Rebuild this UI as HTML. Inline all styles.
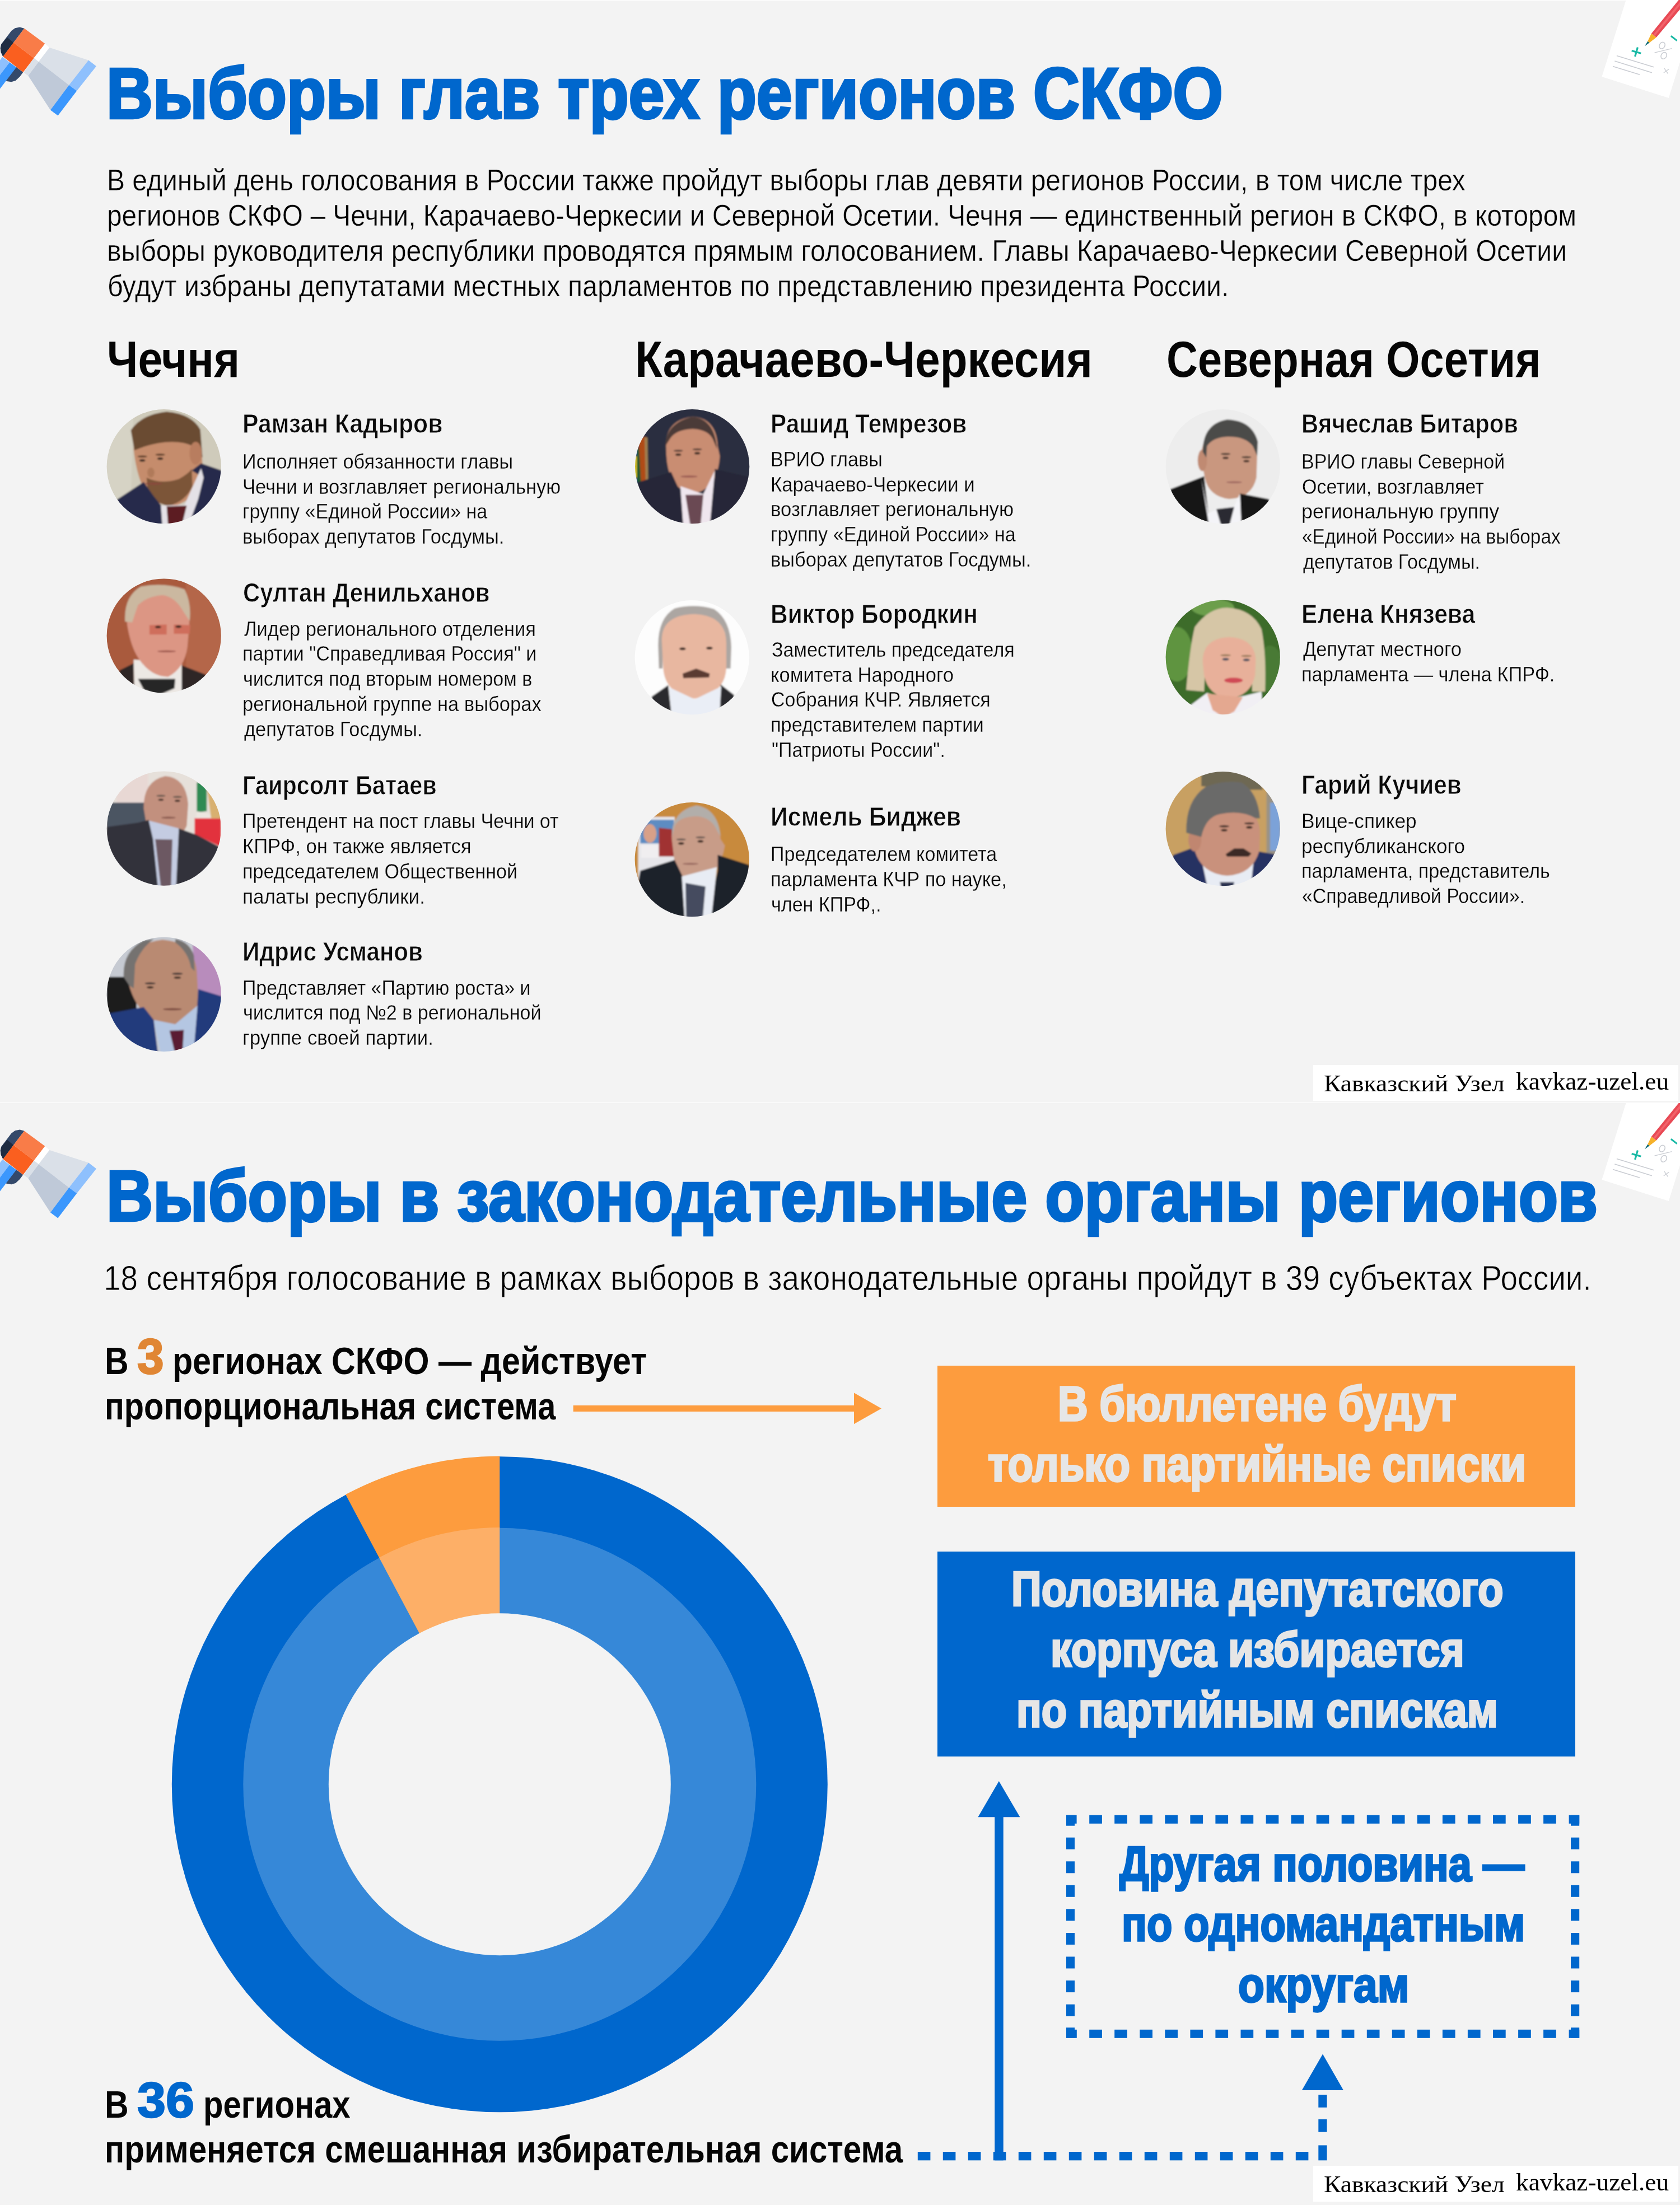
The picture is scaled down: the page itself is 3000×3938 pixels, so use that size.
<!DOCTYPE html>
<html><head><meta charset="utf-8"><style>
html,body{margin:0;padding:0;}
body{width:3000px;height:3938px;position:relative;overflow:hidden;background:#f3f3f3;font-family:'Liberation Sans',sans-serif;}
.t{position:absolute;white-space:nowrap;line-height:1;transform-origin:0 0;}
.a{position:absolute;}
</style></head><body>
<div class="a" style="left:0.00px;top:0.00px;width:3000.00px;height:1.00px;background:#ffffff"></div>
<div class="a" style="left:0.00px;top:1969.00px;width:3000.00px;height:1.00px;background:#ffffff"></div>
<svg class="a" style="left:0;top:40px" width="180" height="180" viewBox="0 0 1680 1680"><polygon points="405.0,100.0 330.0,80.0 250.0,95.0 190.0,140.0 20.0,365.0 5.0,430.0 20.0,500.0 50.0,570.0" fill="#34496a"/><polygon points="120.0,250.0 225.0,335.0 50.0,570.0 15.0,500.0 8.0,430.0 25.0,365.0" fill="#1f2c42"/><polygon points="270.0,745.0 385.0,830.0 330.0,905.0 260.0,970.0 190.0,992.0 110.0,980.0 95.0,965.0" fill="#34496a"/><polygon points="40.0,575.0 160.0,665.0 0.0,875.0 0.0,630.0" fill="#8ec0fd"/><polygon points="160.0,665.0 272.0,750.0 0.0,1105.0 0.0,875.0" fill="#3b97fd"/><polygon points="405.0,100.0 750.0,355.0 565.0,595.0 225.0,335.0" fill="#f97c48"/><polygon points="225.0,335.0 565.0,595.0 385.0,830.0 50.0,570.0" fill="#fa5f1f"/><polygon points="750.0,355.0 825.0,420.0 645.0,655.0 565.0,595.0" fill="#ffffff"/><polygon points="565.0,595.0 645.0,655.0 470.0,890.0 395.0,835.0" fill="#dae0e8"/><polygon points="825.0,420.0 1475.0,630.0 1150.0,1045.0 645.0,655.0" fill="#dae0e8"/><polygon points="645.0,655.0 1150.0,1045.0 840.0,1460.0 470.0,890.0" fill="#bfc9d8"/><polygon points="1475.0,630.0 1605.0,730.0 1280.0,1140.0 1150.0,1045.0" fill="#8ec0fd"/><polygon points="1150.0,1045.0 1280.0,1140.0 965.0,1555.0 840.0,1460.0" fill="#3b97fd"/></svg>
<svg class="a" style="left:0;top:2009px" width="180" height="180" viewBox="0 0 1680 1680"><polygon points="405.0,100.0 330.0,80.0 250.0,95.0 190.0,140.0 20.0,365.0 5.0,430.0 20.0,500.0 50.0,570.0" fill="#34496a"/><polygon points="120.0,250.0 225.0,335.0 50.0,570.0 15.0,500.0 8.0,430.0 25.0,365.0" fill="#1f2c42"/><polygon points="270.0,745.0 385.0,830.0 330.0,905.0 260.0,970.0 190.0,992.0 110.0,980.0 95.0,965.0" fill="#34496a"/><polygon points="40.0,575.0 160.0,665.0 0.0,875.0 0.0,630.0" fill="#8ec0fd"/><polygon points="160.0,665.0 272.0,750.0 0.0,1105.0 0.0,875.0" fill="#3b97fd"/><polygon points="405.0,100.0 750.0,355.0 565.0,595.0 225.0,335.0" fill="#f97c48"/><polygon points="225.0,335.0 565.0,595.0 385.0,830.0 50.0,570.0" fill="#fa5f1f"/><polygon points="750.0,355.0 825.0,420.0 645.0,655.0 565.0,595.0" fill="#ffffff"/><polygon points="565.0,595.0 645.0,655.0 470.0,890.0 395.0,835.0" fill="#dae0e8"/><polygon points="825.0,420.0 1475.0,630.0 1150.0,1045.0 645.0,655.0" fill="#dae0e8"/><polygon points="645.0,655.0 1150.0,1045.0 840.0,1460.0 470.0,890.0" fill="#bfc9d8"/><polygon points="1475.0,630.0 1605.0,730.0 1280.0,1140.0 1150.0,1045.0" fill="#8ec0fd"/><polygon points="1150.0,1045.0 1280.0,1140.0 965.0,1555.0 840.0,1460.0" fill="#3b97fd"/></svg>
<svg class="a" style="left:2800px;top:0px" width="200" height="200" viewBox="0 0 1680 1680"><polygon points="870.0,0.0 1680.0,0.0 1680.0,930.0 1510.0,1470.0 508.0,1150.0" fill="#ffffff"/><line x1="730" y1="835" x2="1285" y2="1005" stroke="#c9ccd2" stroke-width="13"/><line x1="700" y1="915" x2="1258" y2="1090" stroke="#c9ccd2" stroke-width="13"/><line x1="672" y1="995" x2="1075" y2="1120" stroke="#c9ccd2" stroke-width="13"/><line x1="1045" y1="710" x2="1005" y2="848" stroke="#19b9a5" stroke-width="27"/><line x1="955" y1="760" x2="1095" y2="800" stroke="#19b9a5" stroke-width="27"/><line x1="1545" y1="540" x2="1635" y2="610" stroke="#19b9a5" stroke-width="25"/><line x1="1298" y1="790" x2="1558" y2="728" stroke="#c9ccd2" stroke-width="11"/><ellipse cx="1412" cy="682" rx="40" ry="52" transform="rotate(30 1412 682)" fill="none" stroke="#c9ccd2" stroke-width="13"/><ellipse cx="1437" cy="835" rx="40" ry="52" transform="rotate(30 1437 835)" fill="none" stroke="#c9ccd2" stroke-width="13"/><line x1="1435" y1="1092" x2="1515" y2="1035" stroke="#c9ccd2" stroke-width="11"/><line x1="1445" y1="1025" x2="1500" y2="1105" stroke="#c9ccd2" stroke-width="11"/><polygon points="1250.0,505.0 1660.0,0.0 1680.0,0.0 1680.0,140.0 1325.0,560.0" fill="#e84a55"/><polygon points="1276.0,524.0 1680.0,30.0 1680.0,80.0 1300.0,542.0" fill="#f2636b"/><polygon points="1250.0,505.0 1325.0,560.0 1222.0,640.0 1195.0,620.0" fill="#f6b12b"/><polygon points="1195.0,620.0 1222.0,640.0 1150.0,692.0" fill="#0f6b78"/></svg>
<svg class="a" style="left:2800px;top:1970px" width="200" height="200" viewBox="0 0 1680 1680"><polygon points="870.0,0.0 1680.0,0.0 1680.0,930.0 1510.0,1470.0 508.0,1150.0" fill="#ffffff"/><line x1="730" y1="835" x2="1285" y2="1005" stroke="#c9ccd2" stroke-width="13"/><line x1="700" y1="915" x2="1258" y2="1090" stroke="#c9ccd2" stroke-width="13"/><line x1="672" y1="995" x2="1075" y2="1120" stroke="#c9ccd2" stroke-width="13"/><line x1="1045" y1="710" x2="1005" y2="848" stroke="#19b9a5" stroke-width="27"/><line x1="955" y1="760" x2="1095" y2="800" stroke="#19b9a5" stroke-width="27"/><line x1="1545" y1="540" x2="1635" y2="610" stroke="#19b9a5" stroke-width="25"/><line x1="1298" y1="790" x2="1558" y2="728" stroke="#c9ccd2" stroke-width="11"/><ellipse cx="1412" cy="682" rx="40" ry="52" transform="rotate(30 1412 682)" fill="none" stroke="#c9ccd2" stroke-width="13"/><ellipse cx="1437" cy="835" rx="40" ry="52" transform="rotate(30 1437 835)" fill="none" stroke="#c9ccd2" stroke-width="13"/><line x1="1435" y1="1092" x2="1515" y2="1035" stroke="#c9ccd2" stroke-width="11"/><line x1="1445" y1="1025" x2="1500" y2="1105" stroke="#c9ccd2" stroke-width="11"/><polygon points="1250.0,505.0 1660.0,0.0 1680.0,0.0 1680.0,140.0 1325.0,560.0" fill="#e84a55"/><polygon points="1276.0,524.0 1680.0,30.0 1680.0,80.0 1300.0,542.0" fill="#f2636b"/><polygon points="1250.0,505.0 1325.0,560.0 1222.0,640.0 1195.0,620.0" fill="#f6b12b"/><polygon points="1195.0,620.0 1222.0,640.0 1150.0,692.0" fill="#0f6b78"/></svg>
<div class="a" style="left:2345.00px;top:1902.00px;width:652.00px;height:64.00px;background:#ffffff"></div>
<div class="a" style="left:2345.00px;top:3868.20px;width:652.00px;height:63.60px;background:#ffffff"></div>
<div class="a" style="left:1674.00px;top:2439.20px;width:1139.00px;height:251.70px;background:#fd9c3e"></div>
<div class="a" style="left:1673.75px;top:2771.00px;width:1139.25px;height:366.10px;background:#0067cd"></div>
<svg class="a" style="left:0;top:0" width="3000" height="3938" viewBox="0 0 3000 3938"><circle cx="892.3" cy="3186.7" r="585.5" fill="#0067cd"/><path d="M892.3,3186.7 L892.3,2600.5 A586.2,586.2 0 0 0 617.10,2669.12 Z" fill="#fd9c3e"/><circle cx="892.3" cy="3186.7" r="458" fill="#3688d8"/><path d="M892.3,3186.7 L892.3,2728.0 A458.7,458.7 0 0 0 676.95,2781.69 Z" fill="#fdaf67"/><circle cx="892.3" cy="3186.7" r="305.5" fill="#f3f3f3"/><rect x="1023.7" y="2510" width="502.29999999999995" height="11" fill="#fd9c3e"/><polygon points="1525,2487.4 1574,2515.5 1525,2543.2" fill="#fd9c3e"/><polygon points="1783.8,3181 1821.4,3245.2 1746.4,3245.2" fill="#0067cd"/><rect x="1776.2" y="3244" width="15.5" height="614.3000000000002" fill="#0067cd"/><polygon points="2362,3668.5 2399,3732.9 2324.8,3732.9" fill="#0067cd"/><rect x="2354.3" y="3741" width="15.2" height="22.8" fill="#0067cd"/><rect x="2354.3" y="3785" width="15.2" height="22.6" fill="#0067cd"/><rect x="2354.3" y="3831.4" width="15.2" height="26.9" fill="#0067cd"/><rect x="1638.8" y="3843" width="22.6" height="15.3" fill="#0067cd"/><rect x="1683.8" y="3843" width="22.6" height="15.3" fill="#0067cd"/><rect x="1728.8" y="3843" width="22.6" height="15.3" fill="#0067cd"/><rect x="1773.8" y="3843" width="22.6" height="15.3" fill="#0067cd"/><rect x="1818.8" y="3843" width="22.6" height="15.3" fill="#0067cd"/><rect x="1863.8" y="3843" width="22.6" height="15.3" fill="#0067cd"/><rect x="1908.8" y="3843" width="22.6" height="15.3" fill="#0067cd"/><rect x="1953.8" y="3843" width="22.6" height="15.3" fill="#0067cd"/><rect x="1998.8" y="3843" width="22.6" height="15.3" fill="#0067cd"/><rect x="2043.8" y="3843" width="22.6" height="15.3" fill="#0067cd"/><rect x="2088.8" y="3843" width="22.6" height="15.3" fill="#0067cd"/><rect x="2133.8" y="3843" width="22.6" height="15.3" fill="#0067cd"/><rect x="2178.8" y="3843" width="22.6" height="15.3" fill="#0067cd"/><rect x="2223.8" y="3843" width="22.6" height="15.3" fill="#0067cd"/><rect x="2268.8" y="3843" width="22.6" height="15.3" fill="#0067cd"/><rect x="2313.8" y="3843" width="22.6" height="15.3" fill="#0067cd"/><rect x="1945.2" y="3241.7" width="22.7" height="15.1" fill="#0067cd"/><rect x="1945.2" y="3624.8" width="22.7" height="15.0" fill="#0067cd"/><rect x="1990.2" y="3241.7" width="22.7" height="15.1" fill="#0067cd"/><rect x="1990.2" y="3624.8" width="22.7" height="15.0" fill="#0067cd"/><rect x="2035.3" y="3241.7" width="22.7" height="15.1" fill="#0067cd"/><rect x="2035.3" y="3624.8" width="22.7" height="15.0" fill="#0067cd"/><rect x="2080.3" y="3241.7" width="22.7" height="15.1" fill="#0067cd"/><rect x="2080.3" y="3624.8" width="22.7" height="15.0" fill="#0067cd"/><rect x="2125.4" y="3241.7" width="22.7" height="15.1" fill="#0067cd"/><rect x="2125.4" y="3624.8" width="22.7" height="15.0" fill="#0067cd"/><rect x="2170.4" y="3241.7" width="22.7" height="15.1" fill="#0067cd"/><rect x="2170.4" y="3624.8" width="22.7" height="15.0" fill="#0067cd"/><rect x="2215.5" y="3241.7" width="22.7" height="15.1" fill="#0067cd"/><rect x="2215.5" y="3624.8" width="22.7" height="15.0" fill="#0067cd"/><rect x="2260.6" y="3241.7" width="22.7" height="15.1" fill="#0067cd"/><rect x="2260.6" y="3624.8" width="22.7" height="15.0" fill="#0067cd"/><rect x="2305.6" y="3241.7" width="22.7" height="15.1" fill="#0067cd"/><rect x="2305.6" y="3624.8" width="22.7" height="15.0" fill="#0067cd"/><rect x="2350.7" y="3241.7" width="22.7" height="15.1" fill="#0067cd"/><rect x="2350.7" y="3624.8" width="22.7" height="15.0" fill="#0067cd"/><rect x="2395.7" y="3241.7" width="22.7" height="15.1" fill="#0067cd"/><rect x="2395.7" y="3624.8" width="22.7" height="15.0" fill="#0067cd"/><rect x="2440.8" y="3241.7" width="22.7" height="15.1" fill="#0067cd"/><rect x="2440.8" y="3624.8" width="22.7" height="15.0" fill="#0067cd"/><rect x="2485.8" y="3241.7" width="22.7" height="15.1" fill="#0067cd"/><rect x="2485.8" y="3624.8" width="22.7" height="15.0" fill="#0067cd"/><rect x="2530.8" y="3241.7" width="22.7" height="15.1" fill="#0067cd"/><rect x="2530.8" y="3624.8" width="22.7" height="15.0" fill="#0067cd"/><rect x="2575.9" y="3241.7" width="22.7" height="15.1" fill="#0067cd"/><rect x="2575.9" y="3624.8" width="22.7" height="15.0" fill="#0067cd"/><rect x="2620.9" y="3241.7" width="22.7" height="15.1" fill="#0067cd"/><rect x="2620.9" y="3624.8" width="22.7" height="15.0" fill="#0067cd"/><rect x="2666.0" y="3241.7" width="22.7" height="15.1" fill="#0067cd"/><rect x="2666.0" y="3624.8" width="22.7" height="15.0" fill="#0067cd"/><rect x="2711.1" y="3241.7" width="22.7" height="15.1" fill="#0067cd"/><rect x="2711.1" y="3624.8" width="22.7" height="15.0" fill="#0067cd"/><rect x="2756.1" y="3241.7" width="22.7" height="15.1" fill="#0067cd"/><rect x="2756.1" y="3624.8" width="22.7" height="15.0" fill="#0067cd"/><rect x="1904" y="3281.7" width="15" height="21" fill="#0067cd"/><rect x="2805" y="3281.7" width="15.2" height="21" fill="#0067cd"/><rect x="1904" y="3324.3" width="15" height="21" fill="#0067cd"/><rect x="2805" y="3324.3" width="15.2" height="21" fill="#0067cd"/><rect x="1904" y="3366.8" width="15" height="21" fill="#0067cd"/><rect x="2805" y="3366.8" width="15.2" height="21" fill="#0067cd"/><rect x="1904" y="3409.4" width="15" height="21" fill="#0067cd"/><rect x="2805" y="3409.4" width="15.2" height="21" fill="#0067cd"/><rect x="1904" y="3452.0" width="15" height="21" fill="#0067cd"/><rect x="2805" y="3452.0" width="15.2" height="21" fill="#0067cd"/><rect x="1904" y="3494.5" width="15" height="21" fill="#0067cd"/><rect x="2805" y="3494.5" width="15.2" height="21" fill="#0067cd"/><rect x="1904" y="3537.1" width="15" height="21" fill="#0067cd"/><rect x="2805" y="3537.1" width="15.2" height="21" fill="#0067cd"/><rect x="1904" y="3579.7" width="15" height="21" fill="#0067cd"/><rect x="2805" y="3579.7" width="15.2" height="21" fill="#0067cd"/><rect x="1904" y="3241.7" width="18.6" height="15.1" fill="#0067cd"/><rect x="1904" y="3241.7" width="15" height="19" fill="#0067cd"/><rect x="2801.6" y="3241.7" width="18.6" height="15.1" fill="#0067cd"/><rect x="2805" y="3241.7" width="15.2" height="19" fill="#0067cd"/><rect x="1904" y="3624.8" width="18.8" height="15.0" fill="#0067cd"/><rect x="1904" y="3621.1" width="15" height="18.7" fill="#0067cd"/><rect x="2801.6" y="3624.8" width="18.6" height="15.0" fill="#0067cd"/><rect x="2805" y="3621.1" width="15.2" height="18.7" fill="#0067cd"/></svg>
<svg class="a" style="left:185px;top:725px" width="215" height="215" viewBox="0 0 1680 1680"><defs><clipPath id="c185_725"><circle cx="842" cy="845" r="798"/></clipPath><filter id="fc185_725" x="-5%" y="-5%" width="110%" height="110%"><feGaussianBlur stdDeviation="14"/></filter></defs><g clip-path="url(#c185_725)"><g filter="url(#fc185_725)"><rect width="1680" height="1680" fill="#cfcbbb"/><polygon points="0,0 420,0 380,1300 0,1400" fill="#d6d3c5"/><path d="M420,620 Q400,220 860,150 Q1330,200 1370,640 L1390,980 Q1300,1300 1000,1390 Q760,1400 620,1250 Q470,1050 420,620Z" fill="#c58c6c"/><path d="M380,340 Q520,120 880,80 Q1230,110 1350,330 L1380,720 L1250,560 Q1050,470 760,520 Q560,560 430,620Z" fill="#6b4b33"/><ellipse cx="1285" cy="660" rx="85" ry="160" fill="#b87d5f"/><path d="M600,1000 Q800,1100 1050,1020 Q1180,950 1230,880 L1240,1120 Q1150,1330 900,1400 Q700,1330 620,1230Z" fill="#7c5439"/><polygon points="150,1330 560,1060 700,1260 830,1420 850,1680 150,1680" fill="#272c4b"/><polygon points="1230,900 1360,800 1650,900 1680,1680 1180,1680 1300,1300 1390,1000" fill="#272c4b"/><polygon points="800,1390 1130,1380 1360,870 1395,1000 1320,1300 1180,1680 820,1680" fill="#e4e1e6"/><polygon points="880,1400 1160,1390 1090,1680 900,1680" fill="#5c1d22"/><ellipse cx="540" cy="760" rx="42" ry="18" fill="#3b2a24"/><ellipse cx="790" cy="735" rx="42" ry="18" fill="#3b2a24"/><ellipse cx="540" cy="705" rx="67" ry="14" fill="#5a3a28"/><ellipse cx="790" cy="680" rx="67" ry="14" fill="#5a3a28"/><ellipse cx="700" cy="1085" rx="120" ry="14" fill="#8a4a3c"/><ellipse cx="660" cy="930" rx="50" ry="70" fill="#b07a5a"/></g></g></svg>
<svg class="a" style="left:185px;top:1027px" width="215" height="215" viewBox="0 0 1680 1680"><defs><clipPath id="c185_1027"><circle cx="842" cy="848" r="798"/></clipPath><filter id="fc185_1027" x="-5%" y="-5%" width="110%" height="110%"><feGaussianBlur stdDeviation="14"/></filter></defs><g clip-path="url(#c185_1027)"><g filter="url(#fc185_1027)"><rect width="1680" height="1680" fill="#a95a3c"/><polygon points="1150,0 1680,0 1680,1680 1150,1680" fill="#b4664a"/><polygon points="220,1330 420,1230 430,1680 220,1680" fill="#2f2828"/><polygon points="1090,1260 1430,1390 1430,1680 1080,1680" fill="#2f2828"/><polygon points="420,1180 1090,1220 1090,1680 430,1680" fill="#ece8e4"/><path d="M330,700 Q300,300 560,170 Q850,110 1120,220 Q1220,400 1190,750 L1170,1000 Q1130,1300 900,1420 Q650,1420 480,1150 Q380,1000 330,700Z" fill="#dc9684"/><path d="M300,650 Q280,300 520,160 Q850,100 1130,200 Q1230,400 1200,640 L1120,520 Q1000,300 820,280 Q600,300 480,420 Q430,560 400,660Z" fill="#cbb8a0"/><polygon points="640,700 880,690 880,830 640,830" fill="#cf6e5c"/><polygon points="980,690 1210,700 1200,820 980,820" fill="#cf6e5c"/><polygon points="480,1450 1000,1450 990,1580 760,1680 560,1600" fill="#262626"/><ellipse cx="760" cy="725" rx="42" ry="18" fill="#3b2a24"/><ellipse cx="1045" cy="720" rx="42" ry="18" fill="#3b2a24"/><ellipse cx="880" cy="1065" rx="130" ry="14" fill="#a05a50"/></g></g></svg>
<svg class="a" style="left:185px;top:1372px" width="215" height="215" viewBox="0 0 1680 1680"><defs><clipPath id="c185_1372"><circle cx="842" cy="840" r="798"/></clipPath><filter id="fc185_1372" x="-5%" y="-5%" width="110%" height="110%"><feGaussianBlur stdDeviation="14"/></filter></defs><g clip-path="url(#c185_1372)"><g filter="url(#fc185_1372)"><rect width="1680" height="1680" fill="#e6e0da"/><polygon points="180,0 620,0 620,500 180,500" fill="#e8d8d4"/><polygon points="40,480 620,480 620,820 40,820" fill="#4c5462"/><polygon points="1300,200 1440,200 1440,600 1300,620" fill="#2e8a52"/><polygon points="1300,600 1560,660 1560,720 1290,700" fill="#ece6e0"/><polygon points="1270,700 1640,700 1640,1100 1270,920" fill="#e2323e"/><polygon points="1440,250 1640,450 1640,700 1500,700" fill="#d8b070"/><path d="M560,560 Q550,180 860,110 Q1150,130 1180,500 L1160,800 Q1100,960 880,980 Q650,960 600,800Z" fill="#c2907e"/><polygon points="40,820 480,760 630,720 720,990 1000,990 1050,840 1300,930 1620,1100 1680,1680 0,1680" fill="#30323a"/><polygon points="630,730 1050,840 1010,1680 760,1680 690,990" fill="#c4cce2"/><polygon points="720,990 960,995 940,1680 800,1680" fill="#6c5862"/><ellipse cx="800" cy="440" rx="38" ry="15" fill="#3b2a24"/><ellipse cx="1030" cy="455" rx="38" ry="15" fill="#3b2a24"/><ellipse cx="800" cy="385" rx="63" ry="14" fill="#6a5a50"/><ellipse cx="1030" cy="400" rx="63" ry="14" fill="#6a5a50"/><ellipse cx="905" cy="690" rx="100" ry="14" fill="#8a5a50"/></g></g></svg>
<svg class="a" style="left:185px;top:1668px" width="215" height="215" viewBox="0 0 1680 1680"><defs><clipPath id="c185_1668"><circle cx="842" cy="842" r="798"/></clipPath><filter id="fc185_1668" x="-5%" y="-5%" width="110%" height="110%"><feGaussianBlur stdDeviation="14"/></filter></defs><g clip-path="url(#c185_1668)"><g filter="url(#fc185_1668)"><rect width="1680" height="1680" fill="#c6cad2"/><polygon points="40,600 460,600 460,1120 40,1120" fill="#1a1a1e"/><polygon points="1240,150 1680,300 1680,880 1300,860" fill="#b88cbc"/><path d="M330,600 Q300,140 820,80 Q1250,110 1300,500 L1320,880 Q1310,1250 1050,1320 Q750,1330 560,1100 Q380,900 330,600Z" fill="#b98a72"/><path d="M280,600 Q260,250 560,90 L700,70 Q520,200 440,420 L420,760 L360,720Z" fill="#757270"/><path d="M1000,70 Q1200,110 1260,300 L1270,520 L1220,470 Q1180,250 1000,120Z" fill="#757270"/><polygon points="80,1110 560,1020 700,1200 760,1680 0,1680" fill="#243a7c"/><polygon points="1320,770 1680,880 1680,1680 1250,1680 1300,1100" fill="#243a7c"/><polygon points="700,1200 1000,1260 1310,1000 1260,1600 800,1680" fill="#b4c6e2"/><polygon points="920,1350 1120,1340 1100,1680 1000,1680" fill="#5a1a32"/><ellipse cx="650" cy="745" rx="50" ry="16" fill="#3b2a24"/><ellipse cx="1030" cy="610" rx="50" ry="16" fill="#3b2a24"/><ellipse cx="650" cy="690" rx="75" ry="14" fill="#3a3030"/><ellipse cx="1030" cy="555" rx="75" ry="14" fill="#3a3030"/><ellipse cx="960" cy="1050" rx="130" ry="14" fill="#7a4a40"/></g></g></svg>
<svg class="a" style="left:1128px;top:725px" width="215" height="215" viewBox="0 0 1680 1680"><defs><clipPath id="c1128_725"><circle cx="845" cy="845" r="798"/></clipPath><filter id="fc1128_725" x="-5%" y="-5%" width="110%" height="110%"><feGaussianBlur stdDeviation="14"/></filter></defs><g clip-path="url(#c1128_725)"><g filter="url(#fc1128_725)"><rect width="1680" height="1680" fill="#2b2f40"/><polygon points="40,600 70,600 70,1100 40,1100" fill="#3040a0"/><polygon points="40,700 95,700 95,1000 40,1000" fill="#e6cf22"/><polygon points="70,600 130,600 130,1060 70,1060" fill="#1f5a30"/><polygon points="95,450 200,430 210,1040 130,1060" fill="#b04c12"/><polygon points="180,440 220,440 230,1040 195,1040" fill="#a08050"/><path d="M480,560 Q470,200 850,150 Q1180,170 1200,560 L1230,700 Q1200,1150 880,1220 Q620,1200 530,950 Q480,800 480,560Z" fill="#c98d72"/><path d="M470,560 Q480,230 850,150 Q1160,180 1190,600 L1140,480 Q1080,330 850,320 Q620,330 540,450Z" fill="#4b3b38"/><polygon points="100,1060 550,920 700,1250 780,1680 0,1680" fill="#282637"/><polygon points="1160,880 1640,990 1680,1680 1050,1680 1150,1200" fill="#282637"/><polygon points="680,1120 1000,1230 1160,900 1090,1680 720,1680" fill="#efe6ee"/><polygon points="750,1240 1000,1240 960,1680 820,1680" fill="#6a4a52"/><ellipse cx="650" cy="680" rx="40" ry="17" fill="#3b2a24"/><ellipse cx="915" cy="660" rx="40" ry="17" fill="#3b2a24"/><ellipse cx="650" cy="625" rx="65" ry="14" fill="#5a4038"/><ellipse cx="915" cy="605" rx="65" ry="14" fill="#5a4038"/><ellipse cx="800" cy="985" rx="120" ry="14" fill="#9a5a52"/></g></g></svg>
<svg class="a" style="left:1128px;top:1066px" width="215" height="215" viewBox="0 0 1680 1680"><defs><clipPath id="c1128_1066"><circle cx="842" cy="845" r="798"/></clipPath><filter id="fc1128_1066" x="-5%" y="-5%" width="110%" height="110%"><feGaussianBlur stdDeviation="14"/></filter></defs><g clip-path="url(#c1128_1066)"><g filter="url(#fc1128_1066)"><rect width="1680" height="1680" fill="#fdfdfd"/><path d="M370,700 Q360,300 600,160 Q880,90 1150,170 Q1380,320 1390,700 L1380,1000 L1300,1000 L1300,500 Q1200,300 880,280 Q550,300 450,500 L430,1000 L380,1000Z" fill="#aca6a2"/><path d="M420,600 Q420,250 880,240 Q1320,260 1320,650 L1320,1000 Q1300,1350 880,1420 Q470,1360 440,1000Z" fill="#e8b7a0"/><polygon points="710,1070 900,1000 1090,1070 1080,1125 720,1135" fill="#5a3b32"/><polygon points="280,1390 510,1230 560,1680 280,1680" fill="#2b2b2d"/><polygon points="1240,1220 1430,1370 1430,1680 1230,1680" fill="#2b2b2d"/><polygon points="520,1260 880,1430 1250,1250 1220,1680 560,1680" fill="#eaeef6"/><ellipse cx="710" cy="725" rx="45" ry="20" fill="#3b2a24"/><ellipse cx="1085" cy="715" rx="45" ry="20" fill="#3b2a24"/></g></g></svg>
<svg class="a" style="left:1128px;top:1427px" width="215" height="215" viewBox="0 0 1680 1680"><defs><clipPath id="c1128_1427"><circle cx="842" cy="845" r="798"/></clipPath><filter id="fc1128_1427" x="-5%" y="-5%" width="110%" height="110%"><feGaussianBlur stdDeviation="14"/></filter></defs><g clip-path="url(#c1128_1427)"><g filter="url(#fc1128_1427)"><rect width="1680" height="1680" fill="#c88a3c"/><polygon points="90,250 600,250 600,1130 90,1130" fill="#e6e6ea"/><polygon points="120,290 590,290 590,620 120,620" fill="#5d8cc2"/><ellipse cx="255" cy="480" rx="90" ry="130" fill="#d8a088"/><polygon points="130,640 380,640 380,820 130,820" fill="#f0eef0"/><polygon points="380,400 560,420 590,800 380,800" fill="#a03030"/><path d="M560,560 Q550,150 900,100 Q1220,140 1240,560 L1300,650 Q1220,1100 900,1150 Q650,1120 600,900Z" fill="#c89c88"/><path d="M560,540 Q560,170 900,90 Q1200,130 1240,520 L1200,460 Q1120,250 900,240 Q650,250 600,380Z" fill="#b2aeaa"/><polygon points="120,1000 600,850 720,1100 740,1680 0,1680" fill="#1f232a"/><polygon points="1200,780 1640,920 1680,1680 1040,1680 1200,1000" fill="#1f232a"/><polygon points="700,1080 1190,950 1110,1680 740,1680" fill="#e8ecf4"/><polygon points="750,1170 1030,1220 990,1680 760,1680" fill="#444c5e"/><ellipse cx="690" cy="620" rx="42" ry="18" fill="#3b2a24"/><ellipse cx="960" cy="590" rx="42" ry="18" fill="#3b2a24"/><ellipse cx="690" cy="565" rx="67" ry="14" fill="#6a5a52"/><ellipse cx="960" cy="535" rx="67" ry="14" fill="#6a5a52"/><ellipse cx="820" cy="905" rx="110" ry="14" fill="#9a6a60"/></g></g></svg>
<svg class="a" style="left:2076px;top:725px" width="215" height="215" viewBox="0 0 1680 1680"><defs><clipPath id="c2076_725"><circle cx="842" cy="845" r="798"/></clipPath><filter id="fc2076_725" x="-5%" y="-5%" width="110%" height="110%"><feGaussianBlur stdDeviation="14"/></filter></defs><g clip-path="url(#c2076_725)"><g filter="url(#fc2076_725)"><rect width="1680" height="1680" fill="#ededed"/><path d="M540,760 Q520,350 900,260 Q1300,300 1320,700 L1310,1000 Q1250,1280 930,1300 Q640,1260 590,1000Z" fill="#c9977f"/><ellipse cx="555" cy="760" rx="65" ry="150" fill="#c08a72"/><path d="M560,640 Q560,250 900,190 Q1250,200 1330,500 L1320,700 L1260,560 Q1150,420 900,430 Q700,440 620,560 L610,720Z" fill="#4b4b49"/><polygon points="110,1160 580,980 640,1500 660,1680 0,1680" fill="#191919"/><polygon points="1080,1220 1480,1300 1680,1680 1080,1680" fill="#191919"/><polygon points="540,1000 640,1500 760,1440 1000,1400 1080,1220 1100,1680 650,1680" fill="#f4f4f8"/><polygon points="750,1440 1000,1410 930,1680 820,1680" fill="#2a2a30"/><ellipse cx="880" cy="725" rx="42" ry="16" fill="#3b2a24"/><ellipse cx="1170" cy="770" rx="42" ry="16" fill="#3b2a24"/><ellipse cx="880" cy="670" rx="67" ry="14" fill="#4a3a32"/><ellipse cx="1170" cy="715" rx="67" ry="14" fill="#4a3a32"/><ellipse cx="1000" cy="1065" rx="110" ry="14" fill="#a06a62"/></g></g></svg>
<svg class="a" style="left:2076px;top:1066px" width="215" height="215" viewBox="0 0 1680 1680"><defs><clipPath id="c2076_1066"><circle cx="842" cy="842" r="798"/></clipPath><filter id="fc2076_1066" x="-5%" y="-5%" width="110%" height="110%"><feGaussianBlur stdDeviation="14"/></filter></defs><g clip-path="url(#c2076_1066)"><g filter="url(#fc2076_1066)"><rect width="1680" height="1680" fill="#3c6c2a"/><ellipse cx="200" cy="800" rx="220" ry="380" fill="#5f9440"/><ellipse cx="1500" cy="1000" rx="180" ry="320" fill="#4a7a34"/><ellipse cx="700" cy="150" rx="300" ry="120" fill="#6c9e4c"/><path d="M330,1300 Q380,700 450,420 Q650,150 900,150 Q1250,170 1380,450 Q1450,800 1430,1320 L1250,1320 L1250,800 Q900,650 600,800 L580,1320Z" fill="#d6c6a6"/><path d="M560,900 Q560,580 930,560 Q1300,580 1300,900 L1290,1100 Q1230,1380 930,1420 Q640,1380 580,1100Z" fill="#e8b09a"/><ellipse cx="990" cy="1165" rx="130" ry="38" fill="#d04a55"/><polygon points="380,1520 620,1340 900,1420 1150,1380 1380,1320 1400,1680 380,1680" fill="#f1eff4"/><polygon points="620,1350 1120,1400 1000,1600 850,1680 700,1580" fill="#e4a890"/><ellipse cx="880" cy="870" rx="48" ry="18" fill="#4a5060"/><ellipse cx="1170" cy="880" rx="48" ry="18" fill="#4a5060"/><ellipse cx="880" cy="815" rx="73" ry="14" fill="#9a7a5a"/><ellipse cx="1170" cy="825" rx="73" ry="14" fill="#9a7a5a"/></g></g></svg>
<svg class="a" style="left:2076px;top:1372px" width="215" height="215" viewBox="0 0 1680 1680"><defs><clipPath id="c2076_1372"><circle cx="842" cy="845" r="798"/></clipPath><filter id="fc2076_1372" x="-5%" y="-5%" width="110%" height="110%"><feGaussianBlur stdDeviation="14"/></filter></defs><g clip-path="url(#c2076_1372)"><g filter="url(#fc2076_1372)"><rect width="1680" height="1680" fill="#c8a062"/><polygon points="540,0 1300,0 1400,300 1100,300 540,250" fill="#6e6852"/><polygon points="1250,0 1680,0 1680,1680 1450,1680 1450,300" fill="#9a9284"/><polygon points="1500,480 1640,480 1640,1150 1500,1150" fill="#7ca2d8"/><polygon points="150,1210 450,1100 560,1250 660,1680 0,1680" fill="#283262"/><polygon points="1280,1150 1560,1200 1680,1680 1200,1680" fill="#283262"/><polygon points="540,1250 1275,1250 1230,1680 630,1680" fill="#e8ecf4"/><polygon points="800,1590 1000,1590 980,1680 820,1680" fill="#2a3050"/><path d="M380,900 Q380,500 850,460 Q1330,480 1360,900 L1350,1150 Q1260,1480 900,1500 Q540,1470 450,1150Z" fill="#c9917b"/><ellipse cx="450" cy="1000" rx="90" ry="160" fill="#c08670"/><path d="M330,900 Q320,450 600,260 Q850,160 1100,200 Q1330,330 1360,700 L1300,700 Q1100,580 800,640 Q600,680 540,960Z" fill="#6b6b69"/><polygon points="880,1200 1000,1120 1130,1120 1240,1190 1200,1235 900,1235" fill="#3a2a28"/><ellipse cx="860" cy="865" rx="45" ry="18" fill="#3b2a24"/><ellipse cx="1210" cy="825" rx="45" ry="18" fill="#3b2a24"/><ellipse cx="860" cy="810" rx="70" ry="14" fill="#3a2a28"/><ellipse cx="1210" cy="770" rx="70" ry="14" fill="#3a2a28"/></g></g></svg>
<div class="t" style="left:189.82px;top:103.01px;font-size:128.49px;font-weight:700;color:#0067cd;transform:scaleX(0.8935);-webkit-text-stroke:4.48px #0067cd;">Выборы глав трех регионов СКФО</div>
<div class="t" style="left:190.55px;top:294.63px;font-size:53.59px;font-weight:400;color:#000000;transform:scaleX(0.8951);-webkit-text-stroke:0.45px #f3f3f3;">В единый день голосования в России также пройдут выборы глав девяти регионов России, в том числе трех</div>
<div class="t" style="left:191.31px;top:357.63px;font-size:53.59px;font-weight:400;color:#000000;transform:scaleX(0.8929);-webkit-text-stroke:0.45px #f3f3f3;">регионов СКФО – Чечни, Карачаево-Черкесии и Северной Осетии. Чечня — единственный регион в СКФО, в котором</div>
<div class="t" style="left:191.29px;top:420.73px;font-size:53.59px;font-weight:400;color:#000000;transform:scaleX(0.8982);-webkit-text-stroke:0.45px #f3f3f3;">выборы руководителя республики проводятся прямым голосованием. Главы Карачаево-Черкесии Северной Осетии</div>
<div class="t" style="left:192.04px;top:483.53px;font-size:53.59px;font-weight:400;color:#000000;transform:scaleX(0.9015);-webkit-text-stroke:0.45px #f3f3f3;">будут избраны депутатами местных парламентов по представлению президента России.</div>
<div class="t" style="left:191.40px;top:596.91px;font-size:90.92px;font-weight:700;color:#050505;transform:scaleX(0.8685);">Чечня</div>
<div class="t" style="left:1134.21px;top:597.21px;font-size:90.92px;font-weight:700;color:#050505;transform:scaleX(0.8788);">Карачаево-Черкесия</div>
<div class="t" style="left:2083.08px;top:597.21px;font-size:90.92px;font-weight:700;color:#050505;transform:scaleX(0.8516);">Северная Осетия</div>
<div class="t" style="left:432.83px;top:732.05px;font-size:48.84px;font-weight:700;color:#0a0a0a;transform:scaleX(0.8754);-webkit-text-stroke:0.9px #f3f3f3;">Рамзан Кадыров</div>
<div class="t" style="left:432.82px;top:806.88px;font-size:36.75px;font-weight:400;color:#000000;transform:scaleX(0.9336);-webkit-text-stroke:0.3px #f3f3f3;">Исполняет обязанности главы</div>
<div class="t" style="left:432.80px;top:851.63px;font-size:36.75px;font-weight:400;color:#000000;transform:scaleX(0.9406);-webkit-text-stroke:0.3px #f3f3f3;">Чечни и возглавляет региональную</div>
<div class="t" style="left:433.37px;top:896.38px;font-size:36.75px;font-weight:400;color:#000000;transform:scaleX(0.9281);-webkit-text-stroke:0.3px #f3f3f3;">группу «Единой России» на</div>
<div class="t" style="left:433.34px;top:941.13px;font-size:36.75px;font-weight:400;color:#000000;transform:scaleX(0.9400);-webkit-text-stroke:0.3px #f3f3f3;">выборах депутатов Госдумы.</div>
<div class="t" style="left:434.19px;top:1034.15px;font-size:48.84px;font-weight:700;color:#0a0a0a;transform:scaleX(0.8576);-webkit-text-stroke:0.9px #f3f3f3;">Султан Денильханов</div>
<div class="t" style="left:435.50px;top:1105.68px;font-size:36.75px;font-weight:400;color:#000000;transform:scaleX(0.9363);-webkit-text-stroke:0.3px #f3f3f3;">Лидер регионального отделения</div>
<div class="t" style="left:433.36px;top:1150.43px;font-size:36.75px;font-weight:400;color:#000000;transform:scaleX(0.9308);-webkit-text-stroke:0.3px #f3f3f3;">партии "Справедливая Россия" и</div>
<div class="t" style="left:433.90px;top:1195.18px;font-size:36.75px;font-weight:400;color:#000000;transform:scaleX(0.9282);-webkit-text-stroke:0.3px #f3f3f3;">числится под вторым номером в</div>
<div class="t" style="left:433.34px;top:1239.93px;font-size:36.75px;font-weight:400;color:#000000;transform:scaleX(0.9397);-webkit-text-stroke:0.3px #f3f3f3;">региональной группе на выборах</div>
<div class="t" style="left:435.50px;top:1284.68px;font-size:36.75px;font-weight:400;color:#000000;transform:scaleX(0.9355);-webkit-text-stroke:0.3px #f3f3f3;">депутатов Госдумы.</div>
<div class="t" style="left:432.91px;top:1377.95px;font-size:48.84px;font-weight:700;color:#0a0a0a;transform:scaleX(0.8481);-webkit-text-stroke:0.9px #f3f3f3;">Гаирсолт Батаев</div>
<div class="t" style="left:432.84px;top:1449.28px;font-size:36.75px;font-weight:400;color:#000000;transform:scaleX(0.9254);-webkit-text-stroke:0.3px #f3f3f3;">Претендент на пост главы Чечни от</div>
<div class="t" style="left:432.79px;top:1494.03px;font-size:36.75px;font-weight:400;color:#000000;transform:scaleX(0.9431);-webkit-text-stroke:0.3px #f3f3f3;">КПРФ, он также является</div>
<div class="t" style="left:433.37px;top:1538.78px;font-size:36.75px;font-weight:400;color:#000000;transform:scaleX(0.9270);-webkit-text-stroke:0.3px #f3f3f3;">председателем Общественной</div>
<div class="t" style="left:433.31px;top:1583.53px;font-size:36.75px;font-weight:400;color:#000000;transform:scaleX(0.9557);-webkit-text-stroke:0.3px #f3f3f3;">палаты республики.</div>
<div class="t" style="left:432.87px;top:1675.05px;font-size:48.84px;font-weight:700;color:#0a0a0a;transform:scaleX(0.8631);-webkit-text-stroke:0.9px #f3f3f3;">Идрис Усманов</div>
<div class="t" style="left:432.86px;top:1746.58px;font-size:36.75px;font-weight:400;color:#000000;transform:scaleX(0.9205);-webkit-text-stroke:0.3px #f3f3f3;">Представляет «Партию роста» и</div>
<div class="t" style="left:433.90px;top:1791.33px;font-size:36.75px;font-weight:400;color:#000000;transform:scaleX(0.9281);-webkit-text-stroke:0.3px #f3f3f3;">числится под №2 в региональной</div>
<div class="t" style="left:433.32px;top:1836.08px;font-size:36.75px;font-weight:400;color:#000000;transform:scaleX(0.9483);-webkit-text-stroke:0.3px #f3f3f3;">группе своей партии.</div>
<div class="t" style="left:1375.95px;top:732.05px;font-size:48.84px;font-weight:700;color:#0a0a0a;transform:scaleX(0.8665);-webkit-text-stroke:0.9px #f3f3f3;">Рашид Темрезов</div>
<div class="t" style="left:1375.93px;top:802.88px;font-size:36.75px;font-weight:400;color:#000000;transform:scaleX(0.9304);-webkit-text-stroke:0.3px #f3f3f3;">ВРИО главы</div>
<div class="t" style="left:1375.89px;top:847.63px;font-size:36.75px;font-weight:400;color:#000000;transform:scaleX(0.9440);-webkit-text-stroke:0.3px #f3f3f3;">Карачаево-Черкесии и</div>
<div class="t" style="left:1376.43px;top:892.38px;font-size:36.75px;font-weight:400;color:#000000;transform:scaleX(0.9443);-webkit-text-stroke:0.3px #f3f3f3;">возглавляет региональную</div>
<div class="t" style="left:1376.47px;top:937.13px;font-size:36.75px;font-weight:400;color:#000000;transform:scaleX(0.9289);-webkit-text-stroke:0.3px #f3f3f3;">группу «Единой России» на</div>
<div class="t" style="left:1376.45px;top:981.88px;font-size:36.75px;font-weight:400;color:#000000;transform:scaleX(0.9357);-webkit-text-stroke:0.3px #f3f3f3;">выборах депутатов Госдумы.</div>
<div class="t" style="left:1375.94px;top:1072.05px;font-size:48.84px;font-weight:700;color:#0a0a0a;transform:scaleX(0.8702);-webkit-text-stroke:0.9px #f3f3f3;">Виктор Бородкин</div>
<div class="t" style="left:1377.54px;top:1142.78px;font-size:36.75px;font-weight:400;color:#000000;transform:scaleX(0.9268);-webkit-text-stroke:0.3px #f3f3f3;">Заместитель председателя</div>
<div class="t" style="left:1376.44px;top:1187.53px;font-size:36.75px;font-weight:400;color:#000000;transform:scaleX(0.9404);-webkit-text-stroke:0.3px #f3f3f3;">комитета Народного</div>
<div class="t" style="left:1377.01px;top:1232.28px;font-size:36.75px;font-weight:400;color:#000000;transform:scaleX(0.9235);-webkit-text-stroke:0.3px #f3f3f3;">Собрания КЧР. Является</div>
<div class="t" style="left:1376.46px;top:1277.03px;font-size:36.75px;font-weight:400;color:#000000;transform:scaleX(0.9338);-webkit-text-stroke:0.3px #f3f3f3;">представителем партии</div>
<div class="t" style="left:1377.54px;top:1321.78px;font-size:36.75px;font-weight:400;color:#000000;transform:scaleX(0.9267);-webkit-text-stroke:0.3px #f3f3f3;">"Патриоты России".</div>
<div class="t" style="left:1375.92px;top:1433.85px;font-size:48.84px;font-weight:700;color:#0a0a0a;transform:scaleX(0.8781);-webkit-text-stroke:0.9px #f3f3f3;">Исмель Биджев</div>
<div class="t" style="left:1375.93px;top:1508.38px;font-size:36.75px;font-weight:400;color:#000000;transform:scaleX(0.9289);-webkit-text-stroke:0.3px #f3f3f3;">Председателем комитета</div>
<div class="t" style="left:1376.45px;top:1553.13px;font-size:36.75px;font-weight:400;color:#000000;transform:scaleX(0.9341);-webkit-text-stroke:0.3px #f3f3f3;">парламента КЧР по науке,</div>
<div class="t" style="left:1377.00px;top:1597.88px;font-size:36.75px;font-weight:400;color:#000000;transform:scaleX(0.9276);-webkit-text-stroke:0.3px #f3f3f3;">член КПРФ,.</div>
<div class="t" style="left:2323.90px;top:732.05px;font-size:48.84px;font-weight:700;color:#0a0a0a;transform:scaleX(0.8532);-webkit-text-stroke:0.9px #f3f3f3;">Вячеслав Битаров</div>
<div class="t" style="left:2323.85px;top:806.88px;font-size:36.75px;font-weight:400;color:#000000;transform:scaleX(0.9238);-webkit-text-stroke:0.3px #f3f3f3;">ВРИО главы Северной</div>
<div class="t" style="left:2324.91px;top:851.63px;font-size:36.75px;font-weight:400;color:#000000;transform:scaleX(0.9255);-webkit-text-stroke:0.3px #f3f3f3;">Осетии, возглавляет</div>
<div class="t" style="left:2324.27px;top:896.38px;font-size:36.75px;font-weight:400;color:#000000;transform:scaleX(0.9729);-webkit-text-stroke:0.3px #f3f3f3;">региональную группу</div>
<div class="t" style="left:2325.46px;top:941.13px;font-size:36.75px;font-weight:400;color:#000000;transform:scaleX(0.9093);-webkit-text-stroke:0.3px #f3f3f3;">«Единой России» на выборах</div>
<div class="t" style="left:2326.50px;top:985.88px;font-size:36.75px;font-weight:400;color:#000000;transform:scaleX(0.9287);-webkit-text-stroke:0.3px #f3f3f3;">депутатов Госдумы.</div>
<div class="t" style="left:2323.84px;top:1072.05px;font-size:48.84px;font-weight:700;color:#0a0a0a;transform:scaleX(0.8728);-webkit-text-stroke:0.9px #f3f3f3;">Елена Князева</div>
<div class="t" style="left:2326.50px;top:1142.38px;font-size:36.75px;font-weight:400;color:#000000;transform:scaleX(0.9387);-webkit-text-stroke:0.3px #f3f3f3;">Депутат местного</div>
<div class="t" style="left:2324.35px;top:1187.13px;font-size:36.75px;font-weight:400;color:#000000;transform:scaleX(0.9357);-webkit-text-stroke:0.3px #f3f3f3;">парламента — члена КПРФ.</div>
<div class="t" style="left:2323.86px;top:1377.40px;font-size:48.84px;font-weight:700;color:#0a0a0a;transform:scaleX(0.8652);-webkit-text-stroke:0.9px #f3f3f3;">Гарий Кучиев</div>
<div class="t" style="left:2323.75px;top:1448.88px;font-size:36.75px;font-weight:400;color:#000000;transform:scaleX(0.9588);-webkit-text-stroke:0.3px #f3f3f3;">Вице-спикер</div>
<div class="t" style="left:2324.30px;top:1493.63px;font-size:36.75px;font-weight:400;color:#000000;transform:scaleX(0.9570);-webkit-text-stroke:0.3px #f3f3f3;">республиканского</div>
<div class="t" style="left:2324.37px;top:1538.38px;font-size:36.75px;font-weight:400;color:#000000;transform:scaleX(0.9294);-webkit-text-stroke:0.3px #f3f3f3;">парламента, представитель</div>
<div class="t" style="left:2325.44px;top:1583.13px;font-size:36.75px;font-weight:400;color:#000000;transform:scaleX(0.9214);-webkit-text-stroke:0.3px #f3f3f3;">«Справедливой России».</div>
<div class="t" style="left:2363.69px;top:1912.61px;font-size:43.22px;font-weight:400;color:#000;transform:scaleX(1.0538);font-family:'Liberation Serif',serif;">Кавказский Узел</div>
<div class="t" style="left:2706.69px;top:1910.26px;font-size:44.23px;font-weight:400;color:#000;transform:scaleX(1.0255);font-family:'Liberation Serif',serif;">kavkaz-uzel.eu</div>
<div class="t" style="left:190.20px;top:2072.01px;font-size:128.49px;font-weight:700;color:#0067cd;transform:scaleX(0.8961);-webkit-text-stroke:4.46px #0067cd;">Выборы в законодательные органы регионов</div>
<div class="t" style="left:184.66px;top:2252.32px;font-size:62.11px;font-weight:400;color:#000000;transform:scaleX(0.8858);-webkit-text-stroke:0.8px #f3f3f3;">18 сентября голосование в рамках выборов в законодательные органы пройдут в 39 субъектах России.</div>
<div class="t" style="left:187.01px;top:2397.01px;font-size:68.49px;font-weight:700;color:#050505;transform:scaleX(0.8620);">В</div>
<div class="t" style="left:244.71px;top:2379.38px;font-size:88.66px;font-weight:700;color:#e08634;transform:scaleX(0.9646);-webkit-text-stroke:2.59px #e08634;">3</div>
<div class="t" style="left:308.40px;top:2396.98px;font-size:68.53px;font-weight:700;color:#050505;transform:scaleX(0.8630);">регионах СКФО — действует</div>
<div class="t" style="left:187.10px;top:2477.98px;font-size:68.53px;font-weight:700;color:#050505;transform:scaleX(0.8416);">пропорциональная система</div>
<div class="t" style="left:187.01px;top:3724.61px;font-size:68.49px;font-weight:700;color:#050505;transform:scaleX(0.8620);">В</div>
<div class="t" style="left:244.62px;top:3706.58px;font-size:88.66px;font-weight:700;color:#0067cd;transform:scaleX(1.0334);-webkit-text-stroke:2.42px #0067cd;">36</div>
<div class="t" style="left:362.58px;top:3724.58px;font-size:68.53px;font-weight:700;color:#050505;transform:scaleX(0.8463);">регионах</div>
<div class="t" style="left:187.36px;top:3804.98px;font-size:68.53px;font-weight:700;color:#050505;transform:scaleX(0.8503);">применяется смешанная избирательная система</div>
<div class="t" style="left:1888.95px;top:2464.19px;font-size:86.23px;font-weight:700;color:#e6e6e6;transform:scaleX(0.8623);-webkit-text-stroke:3.48px #e6e6e6;">В бюллетене будут</div>
<div class="t" style="left:1764.24px;top:2572.49px;font-size:86.23px;font-weight:700;color:#e6e6e6;transform:scaleX(0.8639);-webkit-text-stroke:3.47px #e6e6e6;">только партийные списки</div>
<div class="t" style="left:1805.93px;top:2795.29px;font-size:86.23px;font-weight:700;color:#e6e6e6;transform:scaleX(0.8665);-webkit-text-stroke:3.46px #e6e6e6;">Половина депутатского</div>
<div class="t" style="left:1875.58px;top:2903.39px;font-size:86.23px;font-weight:700;color:#e6e6e6;transform:scaleX(0.8663);-webkit-text-stroke:3.46px #e6e6e6;">корпуса избирается</div>
<div class="t" style="left:1814.86px;top:3011.39px;font-size:86.23px;font-weight:700;color:#e6e6e6;transform:scaleX(0.8615);-webkit-text-stroke:3.48px #e6e6e6;">по партийным спискам</div>
<div class="t" style="left:1999.40px;top:3285.89px;font-size:86.23px;font-weight:700;color:#0067cd;transform:scaleX(0.8567);-webkit-text-stroke:3.50px #0067cd;">Другая половина —</div>
<div class="t" style="left:2003.26px;top:3393.39px;font-size:86.23px;font-weight:700;color:#0067cd;transform:scaleX(0.8619);-webkit-text-stroke:3.48px #0067cd;">по одномандатным</div>
<div class="t" style="left:2211.20px;top:3501.89px;font-size:86.23px;font-weight:700;color:#0067cd;transform:scaleX(0.8907);-webkit-text-stroke:3.37px #0067cd;">округам</div>
<div class="t" style="left:2363.69px;top:3878.61px;font-size:43.22px;font-weight:400;color:#000;transform:scaleX(1.0538);font-family:'Liberation Serif',serif;">Кавказский Узел</div>
<div class="t" style="left:2706.69px;top:3876.26px;font-size:44.23px;font-weight:400;color:#000;transform:scaleX(1.0255);font-family:'Liberation Serif',serif;">kavkaz-uzel.eu</div>
</body></html>
